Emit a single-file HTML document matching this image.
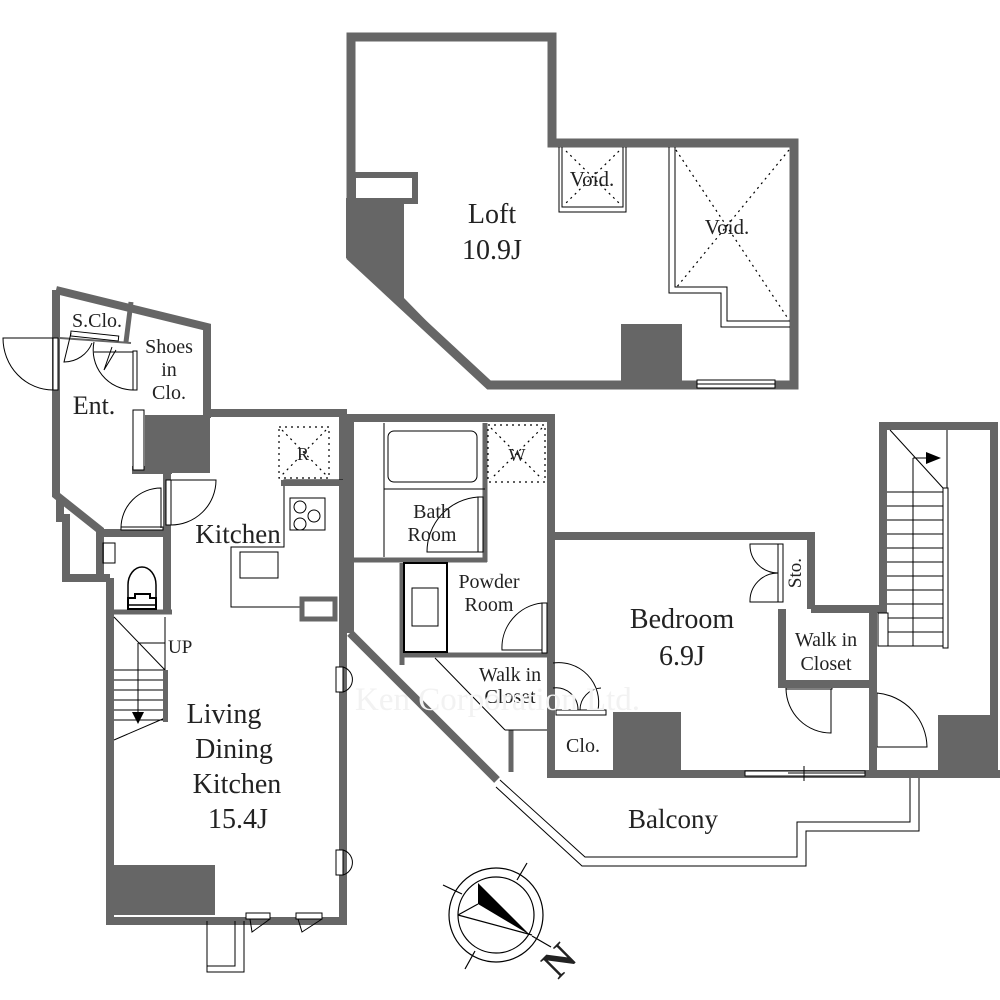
<!DOCTYPE html>
<html><head><meta charset="utf-8"><style>
html,body{margin:0;padding:0;background:#fff}
svg{display:block}
text{font-family:"Liberation Serif",serif;fill:#222}
</style></head><body>
<svg width="1000" height="1000" viewBox="0 0 1000 1000" xmlns="http://www.w3.org/2000/svg">
<g fill="none" stroke="#666" stroke-width="9" stroke-linejoin="miter">
<path d="M351,37 H552 V143 H794 V385 H489 L351,257 Z"/>
</g>
<rect x="346" y="198" width="58" height="60" fill="#666"/>
<polygon points="346,255 404,255 404,298 489,385 489,389 487,389" fill="#666"/>
<rect x="351" y="172" width="67" height="32" fill="#666"/>
<rect x="356" y="178" width="56" height="20" fill="#fff"/>
<rect x="621" y="324" width="61" height="62" fill="#666"/>
<rect x="697" y="380" width="78" height="8" fill="#fff" stroke="#000" stroke-width="1"/>
<line x1="697" y1="384" x2="775" y2="384" stroke="#000" stroke-width="1"/>
<path d="M562,147 V207 H623 V147" fill="none" stroke="#000" stroke-width="1"/>
<path d="M559,147 V212 H626 V147" fill="none" stroke="#000" stroke-width="1"/>
<g stroke="#000" stroke-width="1.2" stroke-dasharray="2,4">
<line x1="566" y1="151" x2="619" y2="203"/><line x1="619" y1="151" x2="566" y2="203"/>
</g>
<text x="592" y="186" font-size="21" text-anchor="middle">Void.</text>
<path d="M669,147 V293 H721 V327 H790" fill="none" stroke="#000" stroke-width="1"/>
<path d="M675,147 V287 H727 V321 H790" fill="none" stroke="#000" stroke-width="1"/>
<g stroke="#000" stroke-width="1.2" stroke-dasharray="2,4">
<line x1="676" y1="150" x2="789" y2="320"/><line x1="789" y1="150" x2="676" y2="288"/>
</g>
<text x="727" y="234" font-size="21" text-anchor="middle">Void.</text>
<text x="492" y="223" font-size="28" text-anchor="middle">Loft</text>
<text x="492" y="259" font-size="28" text-anchor="middle">10.9J</text>

<g fill="none" stroke="#666" stroke-width="8">
<path d="M56,290 L207,327 V418"/>
<path d="M56,290 V495 L100,530 V533 H167"/>
<path d="M60,500 V518 H66 V578 H110"/>
<path d="M100,530 V578"/>
<path d="M167,473 V612"/>
<path d="M132,470 H172"/>
<path d="M110,578 V921 H343 V413 H203"/>
</g>
<line x1="131" y1="302" x2="126" y2="342" stroke="#666" stroke-width="5"/>
<line x1="60" y1="338" x2="131" y2="343" stroke="#666" stroke-width="2"/>
<rect x="145" y="415" width="65" height="58" fill="#666"/>
<rect x="133" y="410" width="11" height="60" fill="#fff" stroke="#000" stroke-width="1"/>
<line x1="114" y1="612" x2="172" y2="612" stroke="#666" stroke-width="5"/>
<g fill="none" stroke="#000" stroke-width="1">
<rect x="53" y="338" width="5" height="52" fill="#fff"/>
<path d="M53,390 A50,52 0 0 1 3,338 H53"/>
<rect x="71" y="331" width="48" height="5" transform="rotate(6 71 331)"/>
<path d="M71,333 L64,362 A30,30 0 0 0 92,343"/>
<path d="M94,342 A40,40 0 0 0 133,390 V352 H94"/>
<rect x="133" y="351" width="4" height="39" fill="#fff"/>
<path d="M112,347 L104,370 L116,350"/>
<rect x="121" y="527" width="42" height="3" fill="#fff"/>
<path d="M121,528 A40,40 0 0 1 161,488 V528"/>
<rect x="166" y="480" width="5" height="45" fill="#fff"/>
<path d="M170,480 H216 A45,45 0 0 1 170,525"/>
<rect x="103" y="543" width="12" height="20"/>
<path d="M128,605 V585 A14,18 0 0 1 156,585 V605 Z" stroke-width="1.5"/>
<path d="M128,609 V598 H135 V594 H150 V598 H156 V609 Z" stroke-width="2"/>
</g>
<text x="94" y="414" font-size="26" text-anchor="middle">Ent.</text>
<text x="97" y="327" font-size="20" text-anchor="middle">S.Clo.</text>
<text x="169" y="353" font-size="20" text-anchor="middle">Shoes</text>
<text x="169" y="376" font-size="20" text-anchor="middle">in</text>
<text x="169" y="399" font-size="20" text-anchor="middle">Clo.</text>

<g fill="none" stroke="#000" stroke-width="1">
<path d="M343,480 H284 V547 H231 V607 H300"/>
<rect x="290" y="498" width="35" height="32"/>
<circle cx="300" cy="507" r="6"/><circle cx="314" cy="516" r="6"/><circle cx="300" cy="524" r="6"/>
<rect x="240" y="552" width="38" height="26"/>
<rect x="302" y="599" width="33" height="20" stroke="#666" stroke-width="5"/>
</g>
<line x1="281" y1="483" x2="343" y2="483" stroke="#666" stroke-width="6"/>
<rect x="279" y="427" width="50" height="51" fill="none" stroke="#000" stroke-width="1.2" stroke-dasharray="2,4"/>
<g stroke="#000" stroke-width="1.2" stroke-dasharray="2,4"><line x1="282" y1="430" x2="326" y2="475"/><line x1="326" y1="430" x2="282" y2="475"/></g>
<text x="303" y="460" font-size="18" text-anchor="middle">R</text>
<text x="238" y="543" font-size="27" text-anchor="middle">Kitchen</text>

<g stroke="#000" stroke-width="1" fill="none">
<line x1="114" y1="617" x2="165" y2="670"/>
<line x1="165" y1="617" x2="165" y2="670"/>
<line x1="138" y1="643" x2="165" y2="643"/>
<line x1="138" y1="643" x2="138" y2="718"/>
<path d="M114,670 H165 M114,680 H165 M114,690 H165 M114,700 H165 M114,710 H165 M114,720 H165"/>
<line x1="114" y1="740" x2="165" y2="718"/>
</g>
<polygon points="132,712 144,712 138,724" fill="#000"/>
<rect x="163" y="670" width="5" height="52" fill="#666"/>
<text x="168" y="653" font-size="19">UP</text>
<rect x="114" y="865" width="101" height="50" fill="#666"/>
<text x="224" y="723" font-size="28" text-anchor="middle">Living</text>
<text x="234" y="758" font-size="28" text-anchor="middle">Dining</text>
<text x="237" y="793" font-size="28" text-anchor="middle">Kitchen</text>
<text x="238" y="828" font-size="28" text-anchor="middle">15.4J</text>
<g stroke="#000" stroke-width="1" fill="#fff">
<rect x="336" y="667" width="7" height="25"/><path d="M343,667 A13,13 0 0 1 343,692" fill="none"/>
<rect x="336" y="850" width="7" height="25"/><path d="M343,850 A13,13 0 0 1 343,875" fill="none"/>
<rect x="246" y="913" width="24" height="6"/><path d="M250,919 L252,932 L270,919" fill="none"/>
<rect x="296" y="913" width="26" height="6"/><path d="M298,919 L302,932 L322,919" fill="none"/>
<path d="M207,921 V972 H244 V921 M207,921 V966 H235 V921" fill="none"/>
</g>

<g fill="none" stroke="#666" stroke-width="8">
<path d="M350,633 V418 H551 V536 H811 V609"/>
<path d="M350,633 L497,780"/>
<path d="M551,536 V774 H1000"/>
</g>
<line x1="354" y1="560" x2="487" y2="560" stroke="#666" stroke-width="5"/>
<line x1="485" y1="423" x2="485" y2="562" stroke="#666" stroke-width="5"/>
<line x1="402" y1="563" x2="402" y2="665" stroke="#666" stroke-width="5"/>
<line x1="402" y1="655" x2="547" y2="655" stroke="#666" stroke-width="5"/>
<line x1="511" y1="730" x2="511" y2="772" stroke="#666" stroke-width="5"/>
<g fill="none" stroke="#000" stroke-width="1">
<line x1="384" y1="423" x2="384" y2="557"/>
<line x1="384" y1="489" x2="485" y2="489"/>
<rect x="388" y="431" width="89" height="51" rx="6"/>
<rect x="478" y="497" width="5" height="55" fill="#fff"/>
<path d="M478,497 A55,55 0 0 0 427,552 H478"/>
<rect x="404" y="563" width="43" height="89" stroke-width="2"/>
<rect x="412" y="588" width="26" height="38"/>
<rect x="542" y="603" width="5" height="50" fill="#fff"/>
<path d="M542,603 A45,45 0 0 0 502,650 H542"/>
<line x1="435" y1="658" x2="505" y2="730"/>
<line x1="505" y1="730" x2="547" y2="730"/>
<path d="M553,663 A40,40 0 0 1 598,710"/>
<path d="M553,688 A22,22 0 0 1 578,710"/>
<path d="M601,688 A22,22 0 0 0 580,710"/>
<rect x="556" y="710" width="50" height="5"/>
</g>
<rect x="488" y="425" width="57" height="57" fill="none" stroke="#000" stroke-width="1.2" stroke-dasharray="2,4"/>
<g stroke="#000" stroke-width="1.2" stroke-dasharray="2,4"><line x1="491" y1="428" x2="542" y2="479"/><line x1="542" y1="428" x2="491" y2="479"/></g>
<text x="517" y="461" font-size="18" text-anchor="middle">W</text>
<text x="432" y="518" font-size="20" text-anchor="middle">Bath</text>
<text x="432" y="541" font-size="20" text-anchor="middle">Room</text>
<text x="489" y="588" font-size="20" text-anchor="middle">Powder</text>
<text x="489" y="611" font-size="20" text-anchor="middle">Room</text>
<text x="510" y="681" font-size="20" text-anchor="middle">Walk in</text>
<text x="510" y="703" font-size="20" text-anchor="middle">Closet</text>
<text x="583" y="752" font-size="20" text-anchor="middle">Clo.</text>
<rect x="613" y="712" width="68" height="60" fill="#666"/>
<text x="355" y="710" font-size="33" style="fill:#f2f2f2">Ken Corporation Ltd.</text>

<text x="682" y="628" font-size="28" text-anchor="middle">Bedroom</text>
<text x="682" y="665" font-size="28" text-anchor="middle">6.9J</text>
<g fill="none" stroke="#000" stroke-width="1">
<rect x="778" y="544" width="5" height="58" fill="#fff"/>
<path d="M778,544 H750 A28,28 0 0 0 778,573 A28,28 0 0 0 750,602 H778"/>
<rect x="786" y="684" width="46" height="5" fill="#fff"/>
<path d="M786,689 A45,45 0 0 0 831,733 V689"/>
<rect x="871" y="693" width="6" height="54" fill="#fff"/>
<path d="M877,693 A55,55 0 0 1 927,747 H877"/>
<rect x="745" y="771" width="120" height="5" fill="#fff"/>
<line x1="788" y1="773" x2="865" y2="773"/>
<line x1="804" y1="766" x2="804" y2="781"/>
</g>
<text x="801" y="573" font-size="19" text-anchor="middle" transform="rotate(-90 801 573)">Sto.</text>
<g fill="none" stroke="#666" stroke-width="8">
<path d="M811,609 H883"/>
<path d="M782,609 V684 H873"/>
<path d="M873,605 V774"/>
<path d="M883,613 V426 H994 V774"/>
</g>
<text x="826" y="646" font-size="20" text-anchor="middle">Walk in</text>
<text x="826" y="670" font-size="20" text-anchor="middle">Closet</text>
<rect x="938" y="715" width="56" height="58" fill="#666"/>
<g stroke="#000" stroke-width="1" fill="none">
<line x1="890" y1="430" x2="943" y2="488"/>
<line x1="913" y1="458" x2="913" y2="646"/>
<line x1="913" y1="458" x2="930" y2="458"/>
<path d="M887,492 H943 M887,506 H943 M887,520 H943 M887,534 H943 M887,548 H943 M887,562 H943 M887,576 H943 M887,590 H943 M887,604 H943 M887,618 H943 M887,632 H943 M887,646 H943"/>
<line x1="947" y1="430" x2="947" y2="488"/>
<rect x="943" y="488" width="5" height="160" fill="#fff"/>
<rect x="878" y="613" width="10" height="33" fill="#fff"/>
</g>
<polygon points="926,452 941,458 926,464" fill="#000"/>

<g fill="none" stroke="#000" stroke-width="1">
<path d="M500,780 L585,857 H797 V822 H910 V778"/>
<path d="M496,787 L582,866 H806 V831 H919 V778"/>
</g>
<text x="673" y="828" font-size="27" text-anchor="middle">Balcony</text>

<g fill="none" stroke="#000" stroke-width="1.2">
<circle cx="496" cy="915" r="47"/>
<circle cx="496" cy="915" r="38"/>
<line x1="443" y1="885" x2="462" y2="894"/>
<line x1="527" y1="863" x2="517" y2="880"/>
<line x1="551" y1="947" x2="532" y2="936"/>
<line x1="465" y1="969" x2="475" y2="951"/>
<line x1="458" y1="915" x2="532" y2="935"/>
<line x1="458" y1="915" x2="478" y2="904"/>
</g>
<polygon points="478,883 478,904 530,935" fill="#000"/>
<text x="0" y="0" font-size="40" font-weight="bold" transform="translate(558,980) rotate(-45)">N</text>
</svg>
</body></html>
